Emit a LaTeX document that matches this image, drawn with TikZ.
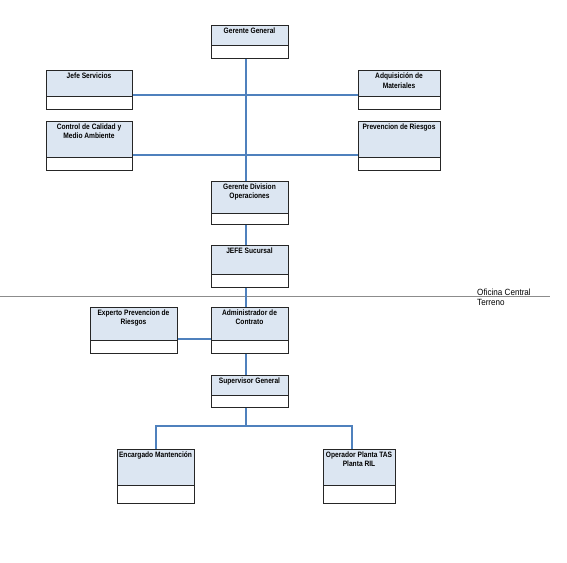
\documentclass[tikz,border=0pt]{standalone}
\usepackage{fontspec}
\newfontfamily\boxfont[FakeStretch=0.85]{Liberation Sans Bold}
\newfontfamily\lblfont[FakeStretch=0.9]{Liberation Sans}
\definecolor{boxfill}{RGB}{220,230,242}
\definecolor{connblue}{RGB}{79,129,189}
\definecolor{sepgray}{RGB}{140,140,140}
\tikzset{
  conn/.style={draw=connblue, line width=1.8pt},
  boxframe/.style={draw=black!85, line width=0.8pt},
  boxtext/.style={font=\boxfont\fontsize{7.8}{9.6}\selectfont, align=center, inner sep=0pt, anchor=north},
  lbl/.style={font=\lblfont\fontsize{9}{10}\selectfont, inner sep=0pt, anchor=west}
}
% \orgbox{name}{x1}{ytop}{x2}{ydiv}{ybot}{text}
\newcommand{\orgbox}[7]{%
  \fill[boxfill] (#2,#3) rectangle (#4,#5);
  \fill[white] (#2,#5) rectangle (#4,#6);
  \node[boxframe, anchor=north west, minimum width=#4pt-#2pt, minimum height=#6pt-#3pt, inner sep=0pt] (#1) at (#2,#3) {};
  \draw[boxframe] (#2,#5) -- (#4,#5);
  \node[boxtext] (#1-t) at ({(#2+#4)/2},#3+2.5) {#7};
}
\begin{document}
\begin{tikzpicture}[x=1pt,y=-1pt]
\useasboundingbox (0,0) rectangle (567,562);
\coordinate (trunk) at (246,0);
\coordinate (h1) at (246,95);
\coordinate (h2) at (246,155);
\coordinate (h3) at (246,339);
\coordinate (h4) at (246,426);
\coordinate (left4) at (156,426);
\coordinate (right4) at (352,426);

% separator line
\coordinate (sepL) at (0,296);
\coordinate (sepR) at (550,296);
\draw[sepgray, line width=0.8pt] (sepL) -- (sepR);
\node[lbl] (ofc) at (477,292) {Oficina Central};
\node[lbl] (ter) at (477,302) {Terreno};

\orgbox{gg}{211}{25}{288}{45}{58}{Gerente General}
\orgbox{js}{46}{70}{132}{96}{109}{Jefe Servicios}
\orgbox{am}{358}{70}{440}{96}{109}{Adquisición de\\Materiales}
\orgbox{cc}{46}{121}{132}{157}{170}{Control de Calidad y\\Medio Ambiente}
\orgbox{pr}{358}{121}{440}{157}{170}{Prevencion de Riesgos}
\orgbox{gdo}{211}{181}{288}{213}{224}{Gerente Division\\Operaciones}
\orgbox{jsu}{211}{245}{288}{274}{287}{JEFE Sucursal}
\orgbox{ep}{90}{307}{177}{340}{353}{Experto Prevencion de\\Riesgos}
\orgbox{ac}{211}{307}{288}{340}{353}{Administrador de\\Contrato}
\orgbox{sg}{211}{375}{288}{395}{407}{Supervisor General}
\orgbox{em}{117}{449}{194}{485}{503}{Encargado Mantención}
\orgbox{op}{323}{449}{395}{485}{503}{Operador Planta TAS\\Planta RIL}

% connectors
\draw[conn] (gg.south -| trunk) -- (gdo.north -| trunk);
\draw[conn] (js.east |- h1) -- (am.west |- h1);
\draw[conn] (cc.east |- h2) -- (pr.west |- h2);
\draw[conn] (gdo.south -| trunk) -- (jsu.north -| trunk);
\draw[conn] (jsu.south -| trunk) -- (ac.north -| trunk);
\draw[conn] (ep.east |- h3) -- (ac.west |- h3);
\draw[conn] (ac.south -| trunk) -- (sg.north -| trunk);
\draw[conn] (sg.south -| trunk) -- (h4);
\draw[conn] (em.north -| left4) -- (left4) -- (right4) -- (op.north -| right4);
\end{tikzpicture}
\end{document}
